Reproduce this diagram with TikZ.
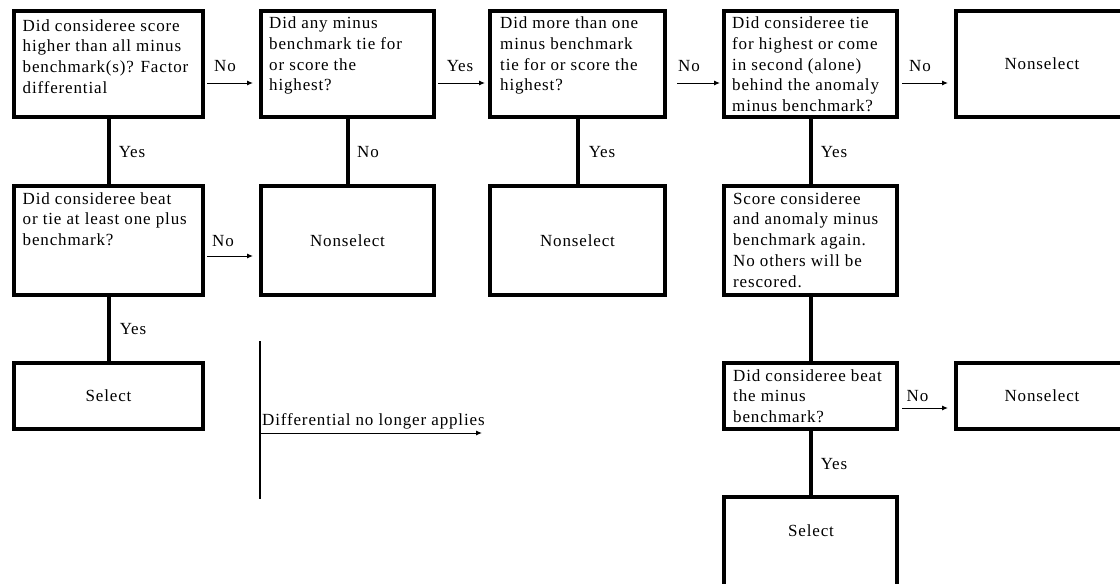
\documentclass[tikz,border=0pt]{standalone}
\usepackage{fontspec}
\setmainfont{Liberation Serif}[LetterSpace=5]
\usetikzlibrary{arrows.meta}
\newcommand\qfont{\fontsize{17pt}{20.8pt}\selectfont}
\newcommand\qlines[1]{\parbox[t]{178pt}{\raggedright #1}}
\tikzset{
  box/.style={draw, rectangle, line width=4pt, inner sep=0pt, outer sep=0pt, font=\qfont},
  link/.style={line width=4pt},
  arr/.style={line width=1pt, -{Latex[length=6pt,width=5pt]}},
  thinline/.style={line width=1.2pt},
  lbl/.style={inner sep=0pt, anchor=base, font=\qfont},
  qtxt/.style={inner sep=0pt, anchor=base west, font=\qfont},
}
\begin{document}
\begin{tikzpicture}[x=1pt,y=-1pt]
\useasboundingbox (0,0) rectangle (1120,584);
\fill[white] (0,0) rectangle (1120,584);
\clip (0,0) rectangle (1120,584);

% row 1
\node[box, minimum width=189pt, minimum height=106pt] (A) at (108.5,64) {};
\node[box, minimum width=173pt, minimum height=106pt] (B) at (347.5,64) {};
\node[box, minimum width=175pt, minimum height=106pt] (C) at (577.5,64) {};
\node[box, minimum width=173pt, minimum height=106pt] (D) at (810.5,64) {};
\node[box, minimum width=172pt, minimum height=106pt] (E) at (1042,64) {Nonselect};
% row 2
\node[box, minimum width=189pt, minimum height=109pt] (A2) at (108.5,240.5) {};
\node[box, minimum width=173pt, minimum height=109pt] (B2) at (347.5,240.5) {Nonselect};
\node[box, minimum width=175pt, minimum height=109pt] (C2) at (577.5,240.5) {Nonselect};
\node[box, minimum width=173pt, minimum height=109pt] (D2) at (810.5,240.5) {};
% row 3
\node[box, minimum width=189pt, minimum height=66pt] (A3) at (108.5,396) {Select};
\node[box, minimum width=173pt, minimum height=66pt] (D3) at (810.5,396) {};
\node[box, minimum width=172pt, minimum height=66pt] (E3) at (1042,396) {Nonselect};
% row 4
\node[box, minimum width=173pt, minimum height=111pt] (D4) at (810.5,552.5) {};

% texts inside question boxes
\node[qtxt] (At) at (22.5,31) {\qlines{Did consideree score\\higher than all minus\\benchmark(s)? Factor\\differential}};
\node[qtxt] (Bt) at (269,28.5) {\qlines{Did any minus\\benchmark tie for\\or score the\\highest?}};
\node[qtxt] (Ct) at (500,28.5) {\qlines{Did more than one\\minus benchmark\\tie for or score the\\highest?}};
\node[qtxt] (Dt) at (732,28.5) {\qlines{Did consideree tie\\for highest or come\\in second (alone)\\behind the anomaly\\minus benchmark?}};
\node[qtxt] (A2t) at (22.5,204) {\qlines{Did consideree beat\\or tie at least one plus\\benchmark?}};
\node[qtxt] (D2t) at (733,204) {\qlines{Score consideree\\and anomaly minus\\benchmark again.\\No others will be\\rescored.}};
\node[qtxt] (D3t) at (733,381) {\qlines{Did consideree beat\\the minus\\benchmark?}};
\node[lbl] (D4t) at (811,536) {Select};

% thick vertical links
\draw[link] (A) -- (A2);
\draw[link] (A2) -- (A3);
\draw[link] (B) -- (B2);
\draw[link] (C) -- (C2);
\draw[link] (D) -- (D2);
\draw[link] (D2) -- (D3);
\draw[link] (D3) -- (D4);

% horizontal arrows
\draw[arr, shorten <=4pt, shorten >=8pt] ([yshift=-19pt]A.east) -- ([yshift=-19pt]B.west);
\draw[arr, shorten <=4pt, shorten >=5pt] ([yshift=-19pt]B.east) -- ([yshift=-19pt]C.west);
\draw[arr, shorten <=12pt, shorten >=4pt] ([yshift=-19pt]C.east) -- ([yshift=-19pt]D.west);
\draw[arr, shorten <=5pt, shorten >=8pt] ([yshift=-19pt]D.east) -- ([yshift=-19pt]E.west);
\draw[arr, shorten <=4pt, shorten >=8pt] ([yshift=-15.5pt]A2.east) -- ([yshift=-15.5pt]B2.west);
\draw[arr, shorten <=5pt, shorten >=8pt] ([yshift=-12pt]D3.east) -- ([yshift=-12pt]E3.west);

% connector labels
\node[lbl] (lAB) at (225,71) {No};
\node[lbl] (lBC) at (460,71) {Yes};
\node[lbl] (lCD) at (689,71) {No};
\node[lbl] (lDE) at (920,71) {No};
\node[lbl] (lAA2) at (132,157) {Yes};
\node[lbl] (lBB2) at (368,157) {No};
\node[lbl] (lCC2) at (602,157) {Yes};
\node[lbl] (lDD2) at (834,157) {Yes};
\node[lbl] (lA2B2) at (223,246) {No};
\node[lbl] (lA2A3) at (133,334) {Yes};
\node[lbl] (lD3E3) at (917.5,401) {No};
\node[lbl] (lD3D4) at (834,469) {Yes};

% differential note
\coordinate (dtop) at (260,341);
\coordinate (dbot) at (260,499);
\coordinate (dfrom) at (260,433);
\coordinate (dto) at (482,433);
\draw[thinline] (dtop) -- (dbot);
\draw[arr] (dfrom) -- (dto);
\node[qtxt] (diff) at (262,425) {Differential no longer applies};
\end{tikzpicture}
\end{document}
